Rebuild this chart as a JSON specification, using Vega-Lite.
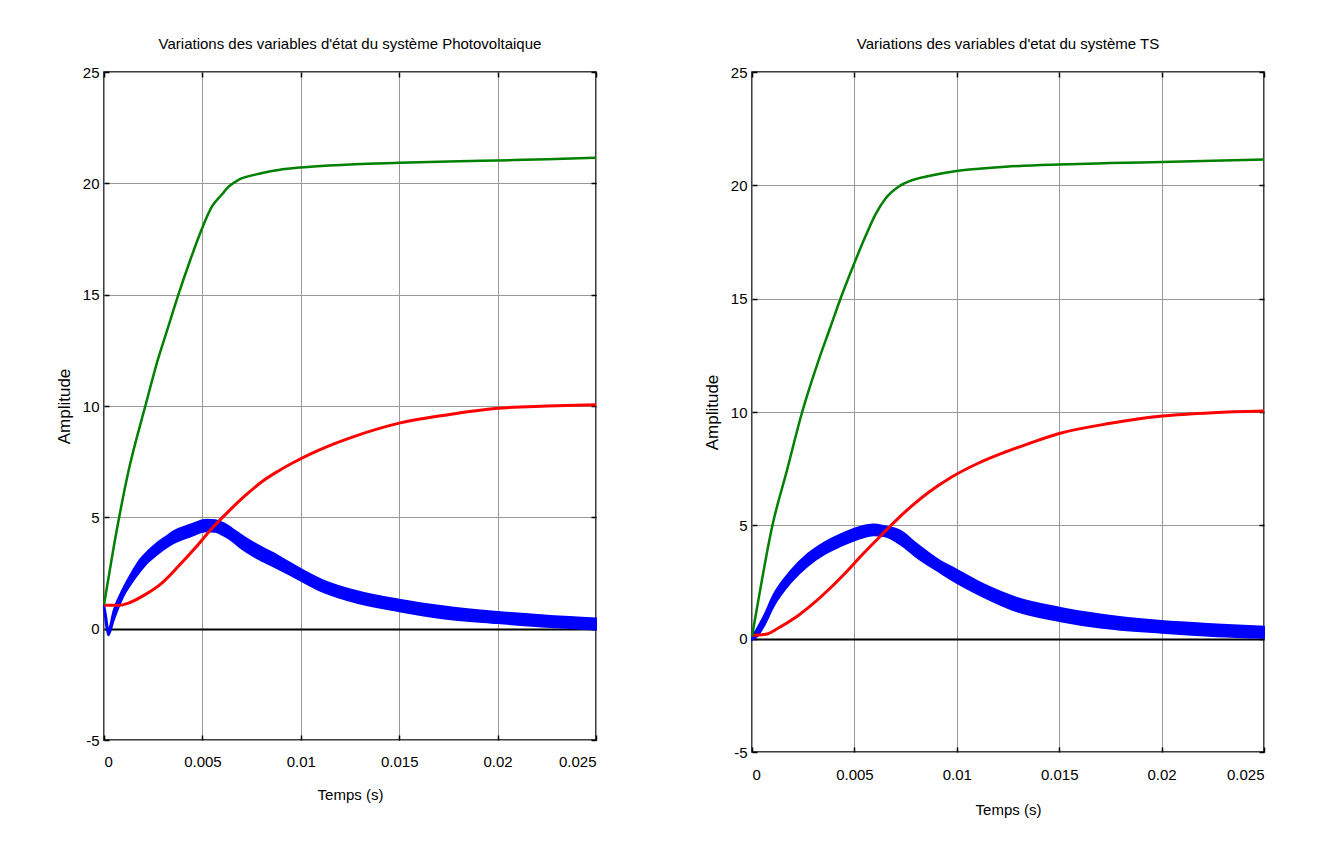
{
  "$schema": "https://vega.github.io/schema/vega-lite/v6.json",
  "background": "white",
  "padding": {"left": 54, "top": 36, "right": 0, "bottom": 0},
  "bounds": "flush",
  "spacing": 156,
  "config": {
    "font": "Liberation Sans",
    "view": {"stroke": "black", "strokeWidth": 1.5},
    "axis": {
      "labelFont": "Liberation Sans",
      "labelFontSize": 15,
      "labelColor": "black",
      "titleFont": "Liberation Sans",
      "titleFontSize": 15,
      "titleFontWeight": "normal",
      "titleColor": "black",
      "domain": false,
      "tickColor": "black",
      "tickSize": -5,
      "tickWidth": 1.5,
      "gridColor": "#999999",
      "gridWidth": 1
    },
    "line": {"interpolate": "monotone"},
    "area": {"interpolate": "monotone"},
    "title": {"font": "Liberation Sans", "fontSize": 15, "fontWeight": "normal", "color": "black", "offset": 13}
  },
  "datasets": {
    "pv": [
      {"s": "green", "t": 0, "v": 1.08},
      {"s": "green", "t": 0.0005, "v": 3.7},
      {"s": "green", "t": 0.00124, "v": 7.06},
      {"s": "green", "t": 0.0021, "v": 10.0},
      {"s": "green", "t": 0.00276, "v": 12.15},
      {"s": "green", "t": 0.00319, "v": 13.35},
      {"s": "green", "t": 0.00378, "v": 15.0},
      {"s": "green", "t": 0.0044, "v": 16.6},
      {"s": "green", "t": 0.00497, "v": 17.95},
      {"s": "green", "t": 0.00548, "v": 18.95},
      {"s": "green", "t": 0.00599, "v": 19.5},
      {"s": "green", "t": 0.00633, "v": 19.85},
      {"s": "green", "t": 0.00684, "v": 20.16},
      {"s": "green", "t": 0.00768, "v": 20.39},
      {"s": "green", "t": 0.00887, "v": 20.6},
      {"s": "green", "t": 0.00995, "v": 20.71},
      {"s": "green", "t": 0.0114, "v": 20.8},
      {"s": "green", "t": 0.01275, "v": 20.86},
      {"s": "green", "t": 0.015, "v": 20.92},
      {"s": "green", "t": 0.0175, "v": 20.98},
      {"s": "green", "t": 0.02, "v": 21.03},
      {"s": "green", "t": 0.0225, "v": 21.08},
      {"s": "green", "t": 0.025, "v": 21.15},
      {"s": "red", "t": 0, "v": 1.05},
      {"s": "red", "t": 0.00081, "v": 1.05},
      {"s": "red", "t": 0.00124, "v": 1.15},
      {"s": "red", "t": 0.00209, "v": 1.53},
      {"s": "red", "t": 0.00294, "v": 2.05},
      {"s": "red", "t": 0.00378, "v": 2.8},
      {"s": "red", "t": 0.00463, "v": 3.62},
      {"s": "red", "t": 0.00548, "v": 4.5},
      {"s": "red", "t": 0.00633, "v": 5.27},
      {"s": "red", "t": 0.00717, "v": 5.97},
      {"s": "red", "t": 0.00802, "v": 6.6},
      {"s": "red", "t": 0.0088, "v": 7.05},
      {"s": "red", "t": 0.0096, "v": 7.45},
      {"s": "red", "t": 0.0105, "v": 7.85},
      {"s": "red", "t": 0.0114, "v": 8.2},
      {"s": "red", "t": 0.01277, "v": 8.65},
      {"s": "red", "t": 0.015, "v": 9.23},
      {"s": "red", "t": 0.0174, "v": 9.6},
      {"s": "red", "t": 0.02, "v": 9.9},
      {"s": "red", "t": 0.0225, "v": 10.0},
      {"s": "red", "t": 0.025, "v": 10.06},
      {"s": "blue", "t": 0, "lo": 0.95, "hi": 1.1},
      {"s": "blue", "t": 0.0001, "lo": 0.2, "hi": 0.6},
      {"s": "blue", "t": 0.00022, "lo": -0.3, "hi": -0.05},
      {"s": "blue", "t": 0.0005, "lo": 0.4, "hi": 0.85},
      {"s": "blue", "t": 0.00098, "lo": 1.45, "hi": 1.82},
      {"s": "blue", "t": 0.0014, "lo": 2.05, "hi": 2.5},
      {"s": "blue", "t": 0.00183, "lo": 2.57, "hi": 3.1},
      {"s": "blue", "t": 0.00225, "lo": 3.0, "hi": 3.5},
      {"s": "blue", "t": 0.00268, "lo": 3.32, "hi": 3.84},
      {"s": "blue", "t": 0.0031, "lo": 3.6, "hi": 4.1},
      {"s": "blue", "t": 0.00353, "lo": 3.84, "hi": 4.37},
      {"s": "blue", "t": 0.00437, "lo": 4.14, "hi": 4.67},
      {"s": "blue", "t": 0.00522, "lo": 4.37, "hi": 4.89},
      {"s": "blue", "t": 0.00565, "lo": 4.35, "hi": 4.87},
      {"s": "blue", "t": 0.00607, "lo": 4.19, "hi": 4.74},
      {"s": "blue", "t": 0.0065, "lo": 3.95, "hi": 4.5},
      {"s": "blue", "t": 0.00692, "lo": 3.65, "hi": 4.24},
      {"s": "blue", "t": 0.00777, "lo": 3.17, "hi": 3.77},
      {"s": "blue", "t": 0.00861, "lo": 2.8, "hi": 3.39},
      {"s": "blue", "t": 0.00946, "lo": 2.42, "hi": 2.95},
      {"s": "blue", "t": 0.01116, "lo": 1.64, "hi": 2.16},
      {"s": "blue", "t": 0.01286, "lo": 1.16, "hi": 1.68},
      {"s": "blue", "t": 0.015, "lo": 0.78, "hi": 1.3},
      {"s": "blue", "t": 0.0171, "lo": 0.48, "hi": 1.02},
      {"s": "blue", "t": 0.02, "lo": 0.25, "hi": 0.75},
      {"s": "blue", "t": 0.0227, "lo": 0.07, "hi": 0.57},
      {"s": "blue", "t": 0.025, "lo": -0.04, "hi": 0.46}
    ],
    "ts": [
      {"s": "green", "t": 0, "v": 0.1},
      {"s": "green", "t": 0.00033, "v": 1.8},
      {"s": "green", "t": 0.00099, "v": 4.97},
      {"s": "green", "t": 0.0017, "v": 7.4},
      {"s": "green", "t": 0.00245, "v": 10.0},
      {"s": "green", "t": 0.00326, "v": 12.3},
      {"s": "green", "t": 0.00383, "v": 13.75},
      {"s": "green", "t": 0.00424, "v": 14.8},
      {"s": "green", "t": 0.00499, "v": 16.55},
      {"s": "green", "t": 0.00554, "v": 17.75},
      {"s": "green", "t": 0.00603, "v": 18.72},
      {"s": "green", "t": 0.00652, "v": 19.42},
      {"s": "green", "t": 0.00717, "v": 19.95},
      {"s": "green", "t": 0.00782, "v": 20.23},
      {"s": "green", "t": 0.00863, "v": 20.41},
      {"s": "green", "t": 0.00999, "v": 20.63},
      {"s": "green", "t": 0.01107, "v": 20.73},
      {"s": "green", "t": 0.01238, "v": 20.82},
      {"s": "green", "t": 0.015, "v": 20.92},
      {"s": "green", "t": 0.0175, "v": 20.98},
      {"s": "green", "t": 0.02, "v": 21.03},
      {"s": "green", "t": 0.0225, "v": 21.08},
      {"s": "green", "t": 0.025, "v": 21.14},
      {"s": "red", "t": 0, "v": 0.15},
      {"s": "red", "t": 0.00066, "v": 0.19},
      {"s": "red", "t": 0.00131, "v": 0.48},
      {"s": "red", "t": 0.00212, "v": 0.93},
      {"s": "red", "t": 0.00294, "v": 1.51},
      {"s": "red", "t": 0.00375, "v": 2.17},
      {"s": "red", "t": 0.00457, "v": 2.91},
      {"s": "red", "t": 0.00538, "v": 3.7},
      {"s": "red", "t": 0.00619, "v": 4.45},
      {"s": "red", "t": 0.00701, "v": 5.2},
      {"s": "red", "t": 0.00782, "v": 5.87},
      {"s": "red", "t": 0.00863, "v": 6.46},
      {"s": "red", "t": 0.00969, "v": 7.1},
      {"s": "red", "t": 0.01107, "v": 7.75},
      {"s": "red", "t": 0.01213, "v": 8.15},
      {"s": "red", "t": 0.0135, "v": 8.6},
      {"s": "red", "t": 0.015, "v": 9.05},
      {"s": "red", "t": 0.0175, "v": 9.5},
      {"s": "red", "t": 0.02003, "v": 9.82},
      {"s": "red", "t": 0.0225, "v": 9.97},
      {"s": "red", "t": 0.025, "v": 10.04},
      {"s": "blue", "t": 0, "lo": -0.05, "hi": 0.1},
      {"s": "blue", "t": 0.00025, "lo": 0.1, "hi": 0.45},
      {"s": "blue", "t": 0.00058, "lo": 0.56, "hi": 1.0},
      {"s": "blue", "t": 0.00106, "lo": 1.44, "hi": 1.95},
      {"s": "blue", "t": 0.00188, "lo": 2.47, "hi": 2.98},
      {"s": "blue", "t": 0.0027, "lo": 3.2, "hi": 3.72},
      {"s": "blue", "t": 0.00351, "lo": 3.72, "hi": 4.23},
      {"s": "blue", "t": 0.00432, "lo": 4.08, "hi": 4.6},
      {"s": "blue", "t": 0.00514, "lo": 4.38, "hi": 4.9},
      {"s": "blue", "t": 0.00595, "lo": 4.56, "hi": 5.04},
      {"s": "blue", "t": 0.00644, "lo": 4.53, "hi": 4.97},
      {"s": "blue", "t": 0.00725, "lo": 4.16, "hi": 4.75},
      {"s": "blue", "t": 0.00807, "lo": 3.57, "hi": 4.16},
      {"s": "blue", "t": 0.0092, "lo": 2.91, "hi": 3.42},
      {"s": "blue", "t": 0.00969, "lo": 2.63, "hi": 3.19},
      {"s": "blue", "t": 0.0113, "lo": 1.85, "hi": 2.4},
      {"s": "blue", "t": 0.0129, "lo": 1.22, "hi": 1.81},
      {"s": "blue", "t": 0.015, "lo": 0.78, "hi": 1.37},
      {"s": "blue", "t": 0.017, "lo": 0.49, "hi": 1.07},
      {"s": "blue", "t": 0.02, "lo": 0.26, "hi": 0.78},
      {"s": "blue", "t": 0.0227, "lo": 0.11, "hi": 0.63},
      {"s": "blue", "t": 0.025, "lo": 0.04, "hi": 0.53}
    ]
  },
  "hconcat": [
    {
      "width": 492,
      "height": 668,
      "title": {"text": "Variations des variables d'état du système Photovoltaique"},
      "data": {"name": "pv"},
      "layer": [
        {
          "transform": [{"filter": "datum.s === 'blue'"}],
          "mark": {"type": "area", "color": "#0000ff", "stroke": "#0000ff", "strokeWidth": 2, "opacity": 1},
          "encoding": {
            "x": {"field": "t", "type": "quantitative", "scale": {"domain": [0, 0.025], "nice": false, "zero": false},
                  "axis": {"title": "Temps (s)", "values": [0, 0.005, 0.01, 0.015, 0.02, 0.025], "labelExpr": "'' + datum.value", "labelPadding": 19, "titlePadding": 18, "grid": true}},
            "y": {"field": "lo", "type": "quantitative", "scale": {"domain": [-5, 25], "nice": false, "zero": false},
                  "axis": {"title": "Amplitude", "titleFontSize": 17, "values": [-5, 0, 5, 10, 15, 20, 25], "labelExpr": "'' + datum.value", "labelPadding": 10, "titlePadding": 9, "grid": true,
                           "gridColor": {"condition": {"test": "datum.value === 0", "value": "#000000"}, "value": "#999999"},
                           "gridWidth": {"condition": {"test": "datum.value === 0", "value": 2}, "value": 1}}},
            "y2": {"field": "hi"}
          }
        },
        {
          "transform": [{"filter": "datum.s === 'red'"}],
          "mark": {"type": "line", "color": "#ff0000", "strokeWidth": 3},
          "encoding": {
            "x": {"field": "t", "type": "quantitative", "axis": {"orient": "top", "labels": false, "title": null, "grid": false, "values": [0, 0.005, 0.01, 0.015, 0.02, 0.025]}},
            "y": {"field": "v", "type": "quantitative", "axis": {"orient": "right", "labels": false, "title": null, "grid": false, "values": [-5, 0, 5, 10, 15, 20, 25]}}
          }
        },
        {
          "transform": [{"filter": "datum.s === 'green'"}],
          "mark": {"type": "line", "color": "#008000", "strokeWidth": 2.5},
          "encoding": {
            "x": {"field": "t", "type": "quantitative", "axis": null},
            "y": {"field": "v", "type": "quantitative", "axis": null}
          }
        }
      ],
      "resolve": {"axis": {"x": "independent", "y": "independent"}}
    },
    {
      "width": 512,
      "height": 680,
      "title": {"text": "Variations des variables d'etat du système TS"},
      "data": {"name": "ts"},
      "layer": [
        {
          "transform": [{"filter": "datum.s === 'blue'"}],
          "mark": {"type": "area", "color": "#0000ff", "stroke": "#0000ff", "strokeWidth": 2, "opacity": 1},
          "encoding": {
            "x": {"field": "t", "type": "quantitative", "scale": {"domain": [0, 0.025], "nice": false, "zero": false},
                  "axis": {"title": "Temps (s)", "values": [0, 0.005, 0.01, 0.015, 0.02, 0.025], "labelExpr": "'' + datum.value", "labelPadding": 20, "titlePadding": 20, "grid": true}},
            "y": {"field": "lo", "type": "quantitative", "scale": {"domain": [-5, 25], "nice": false, "zero": false},
                  "axis": {"title": "Amplitude", "titleFontSize": 17, "values": [-5, 0, 5, 10, 15, 20, 25], "labelExpr": "'' + datum.value", "labelPadding": 10, "titlePadding": 9, "grid": true,
                           "gridColor": {"condition": {"test": "datum.value === 0", "value": "#000000"}, "value": "#999999"},
                           "gridWidth": {"condition": {"test": "datum.value === 0", "value": 2}, "value": 1}}},
            "y2": {"field": "hi"}
          }
        },
        {
          "transform": [{"filter": "datum.s === 'red'"}],
          "mark": {"type": "line", "color": "#ff0000", "strokeWidth": 3},
          "encoding": {
            "x": {"field": "t", "type": "quantitative", "axis": {"orient": "top", "labels": false, "title": null, "grid": false, "values": [0, 0.005, 0.01, 0.015, 0.02, 0.025]}},
            "y": {"field": "v", "type": "quantitative", "axis": {"orient": "right", "labels": false, "title": null, "grid": false, "values": [-5, 0, 5, 10, 15, 20, 25]}}
          }
        },
        {
          "transform": [{"filter": "datum.s === 'green'"}],
          "mark": {"type": "line", "color": "#008000", "strokeWidth": 2.5},
          "encoding": {
            "x": {"field": "t", "type": "quantitative", "axis": null},
            "y": {"field": "v", "type": "quantitative", "axis": null}
          }
        }
      ],
      "resolve": {"axis": {"x": "independent", "y": "independent"}}
    }
  ]
}
